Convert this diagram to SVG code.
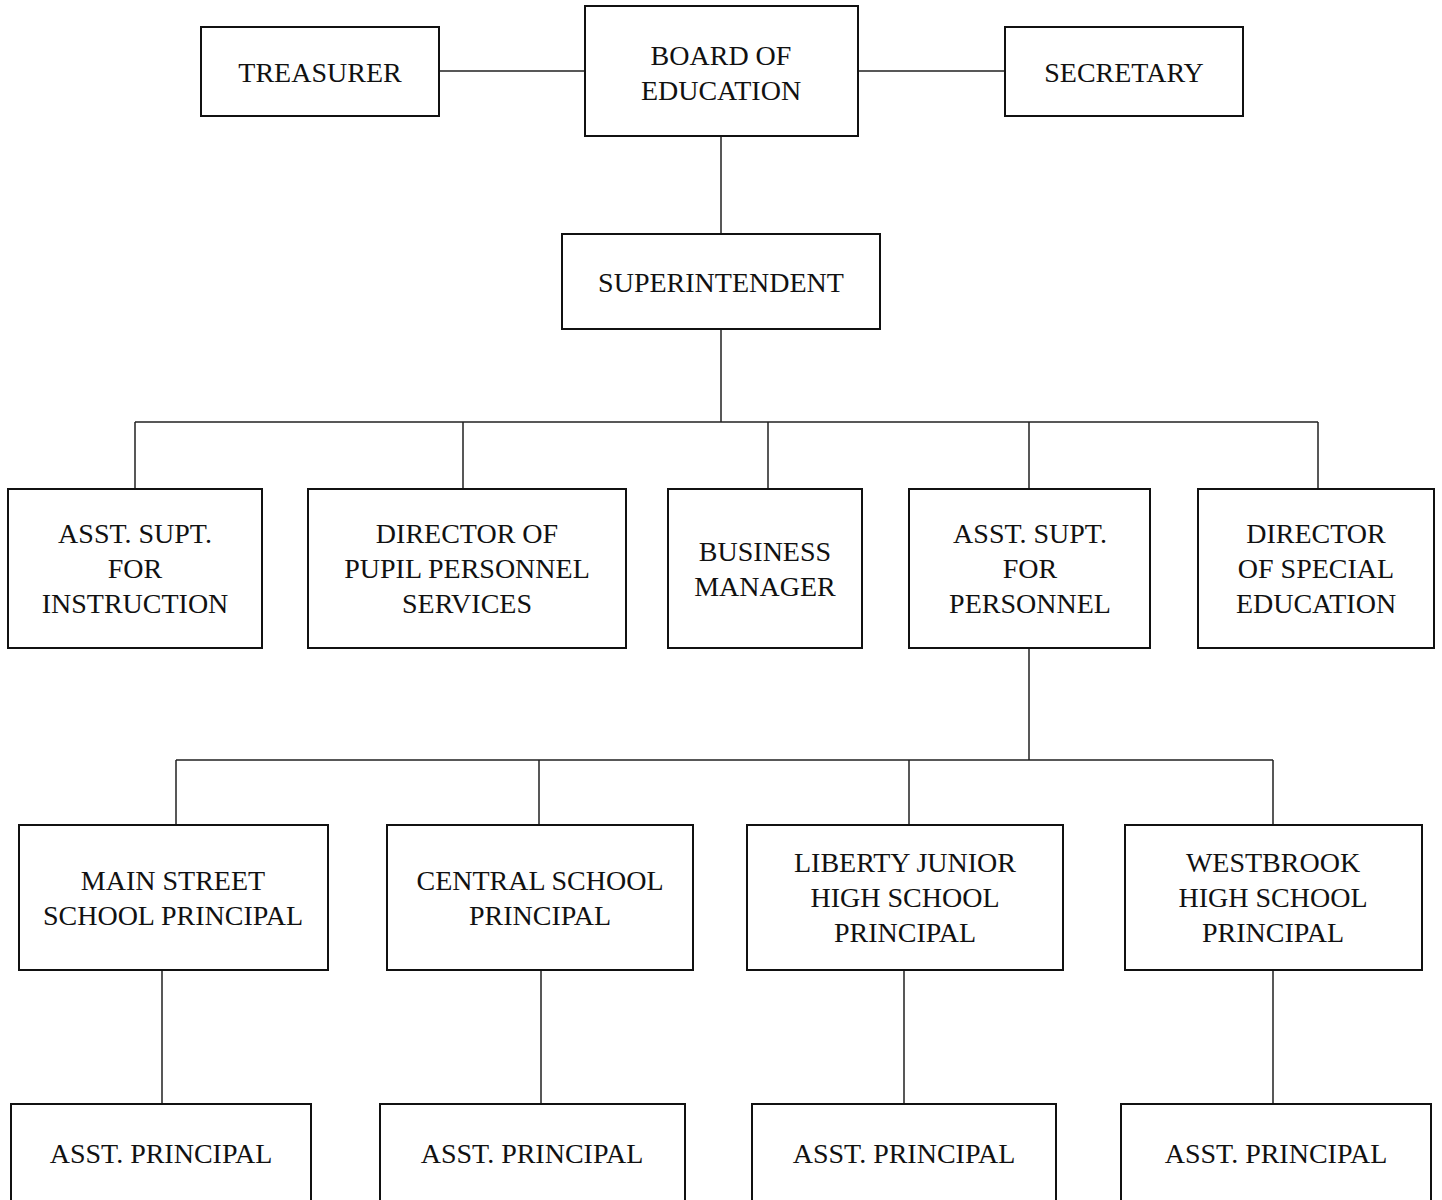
<svg xmlns="http://www.w3.org/2000/svg" width="1442" height="1200" viewBox="0 0 1442 1200">
<style>
.box{fill:#fff;stroke:#111;stroke-width:2}
.ln{stroke:#222;stroke-width:1.5;fill:none}
text{font-family:"Liberation Serif","Times New Roman",serif;font-size:28px;fill:#111;text-anchor:middle}
</style>
<rect width="1442" height="1200" fill="#fff"/>
<g id="connectors">
<path class="ln" d="M439 71H585M858 71H1005M721 136V234M721 329V422M135 422H1318M135 422V489M463 422V489M768 422V489M1029 422V489M1318 422V489M1029 648V760M176 760H1273M176 760V825M539 760V825M909 760V825M1273 760V825M162 970V1104M541 970V1104M904 970V1104M1273 970V1104"/>
</g>
<g id="treasurer"><rect class="box" x="201" y="27" width="238" height="89"/><text x="320" y="82">TREASURER</text></g>
<g id="board"><rect class="box" x="585" y="6" width="273" height="130"/><text x="721" y="65">BOARD OF</text><text x="721" y="100">EDUCATION</text></g>
<g id="secretary"><rect class="box" x="1005" y="27" width="238" height="89"/><text x="1124" y="82">SECRETARY</text></g>
<g id="superintendent"><rect class="box" x="562" y="234" width="318" height="95"/><text x="721" y="292">SUPERINTENDENT</text></g>
<g id="asst-supt-instruction"><rect class="box" x="8" y="489" width="254" height="159"/><text x="135" y="543">ASST. SUPT.</text><text x="135" y="578">FOR</text><text x="135" y="613">INSTRUCTION</text></g>
<g id="pupil-personnel"><rect class="box" x="308" y="489" width="318" height="159"/><text x="467" y="543">DIRECTOR OF</text><text x="467" y="578">PUPIL PERSONNEL</text><text x="467" y="613">SERVICES</text></g>
<g id="business-manager"><rect class="box" x="668" y="489" width="194" height="159"/><text x="765" y="561">BUSINESS</text><text x="765" y="596">MANAGER</text></g>
<g id="asst-supt-personnel"><rect class="box" x="909" y="489" width="241" height="159"/><text x="1030" y="543">ASST. SUPT.</text><text x="1030" y="578">FOR</text><text x="1030" y="613">PERSONNEL</text></g>
<g id="special-education"><rect class="box" x="1198" y="489" width="236" height="159"/><text x="1316" y="543">DIRECTOR</text><text x="1316" y="578">OF SPECIAL</text><text x="1316" y="613">EDUCATION</text></g>
<g id="main-street"><rect class="box" x="19" y="825" width="309" height="145"/><text x="173" y="890">MAIN STREET</text><text x="173" y="925">SCHOOL PRINCIPAL</text></g>
<g id="central"><rect class="box" x="387" y="825" width="306" height="145"/><text x="540" y="890">CENTRAL SCHOOL</text><text x="540" y="925">PRINCIPAL</text></g>
<g id="liberty"><rect class="box" x="747" y="825" width="316" height="145"/><text x="905" y="872">LIBERTY JUNIOR</text><text x="905" y="907">HIGH SCHOOL</text><text x="905" y="942">PRINCIPAL</text></g>
<g id="westbrook"><rect class="box" x="1125" y="825" width="297" height="145"/><text x="1273" y="872">WESTBROOK</text><text x="1273" y="907">HIGH SCHOOL</text><text x="1273" y="942">PRINCIPAL</text></g>
<g id="ap-main"><rect class="box" x="11" y="1104" width="300" height="120"/><text x="161" y="1163">ASST. PRINCIPAL</text></g>
<g id="ap-central"><rect class="box" x="380" y="1104" width="305" height="120"/><text x="532" y="1163">ASST. PRINCIPAL</text></g>
<g id="ap-liberty"><rect class="box" x="752" y="1104" width="304" height="120"/><text x="904" y="1163">ASST. PRINCIPAL</text></g>
<g id="ap-westbrook"><rect class="box" x="1121" y="1104" width="310" height="120"/><text x="1276" y="1163">ASST. PRINCIPAL</text></g>
</svg>
